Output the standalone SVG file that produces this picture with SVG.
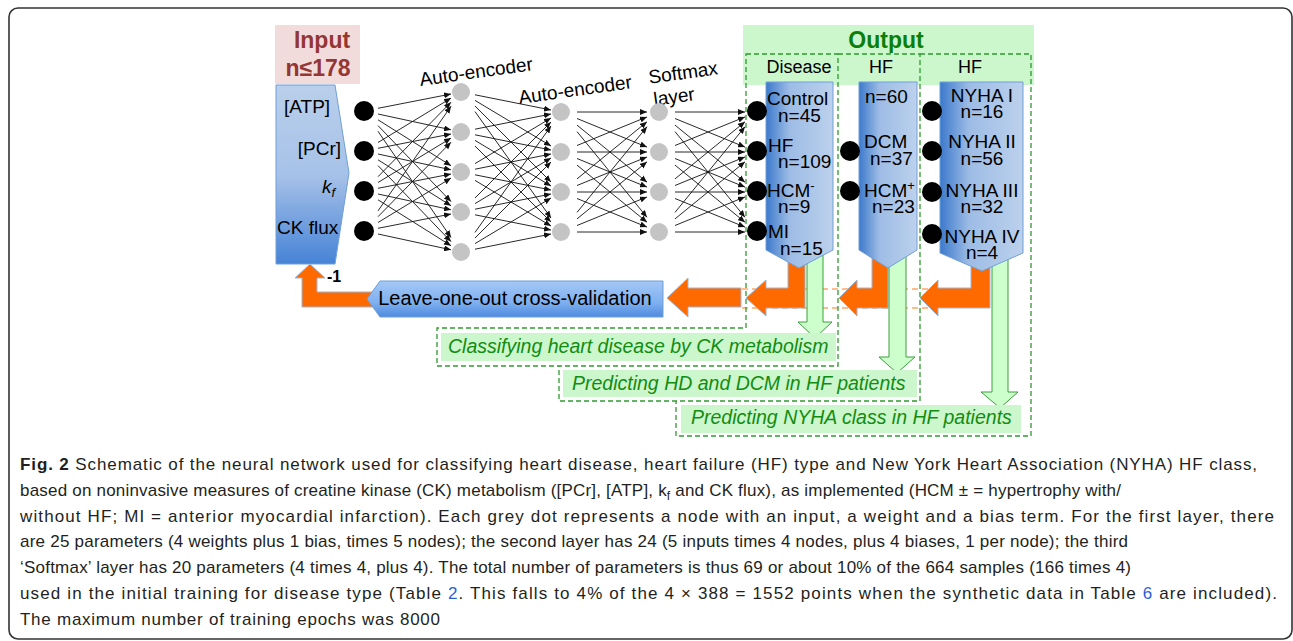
<svg xmlns="http://www.w3.org/2000/svg" width="1293" height="641" viewBox="0 0 1293 641">
<defs>
  <linearGradient id="gIn" x1="0" y1="0" x2="0" y2="1">
    <stop offset="0" stop-color="#b9cfeb"/>
    <stop offset="0.5" stop-color="#a7c2e8"/>
    <stop offset="1" stop-color="#4683d6"/>
  </linearGradient>
  <linearGradient id="gOut" x1="0" y1="0" x2="1" y2="0">
    <stop offset="0" stop-color="#3c79cc"/>
    <stop offset="0.35" stop-color="#9dbce5"/>
    <stop offset="1" stop-color="#bcd1ec"/>
  </linearGradient>
  <linearGradient id="gLoo" x1="0" y1="0" x2="0" y2="1">
    <stop offset="0" stop-color="#a3c8f7"/>
    <stop offset="0.6" stop-color="#7fb0ef"/>
    <stop offset="1" stop-color="#4f8be0"/>
  </linearGradient>
  <marker id="ah" markerUnits="userSpaceOnUse" markerWidth="7" markerHeight="6" refX="7" refY="3" orient="auto"><path d="M0,0 L7,3 L0,6 z" fill="#111"/></marker>
</defs>
<style>
  .t{font-family:"Liberation Sans",Arial,sans-serif;fill:#000}
  .cap{font-family:"Liberation Sans",Arial,sans-serif;font-size:17px;fill:#231f20}
  .lnk{fill:#2d5fd3}
  .w{stroke:#111;stroke-width:0.9;marker-end:url(#ah);fill:none}
  .gn{fill:#c4c4c4}
  .bn{fill:#000}
  .dash{fill:none;stroke:#2f9a2f;stroke-width:1.3;stroke-dasharray:5 3}
  .odash{fill:none;stroke:#ff7a1a;stroke-width:1.2;stroke-dasharray:6 4}
  .org{fill:#ff6a00;stroke:#9bb5da;stroke-width:1}
  .grn{fill:#ccffcc;stroke:#3aa03a;stroke-width:1}
  .gbox{fill:#ccf7cc}
  .gt{font-family:"Liberation Sans",Arial,sans-serif;font-style:italic;font-size:19.5px;fill:#128c12}
  .shape{fill:url(#gOut);stroke:#6f9fd8;stroke-width:1}
  .lbl{font-size:19px}
  .ot{font-size:19px}
  .it{font-size:19px}
</style>
<rect x="9" y="8" width="1283" height="631" rx="9" fill="#fff" stroke="#333" stroke-width="1.6"/>

<g id="input">
  <rect x="275" y="25" width="85" height="59" fill="#f2dcdb"/>
  <text class="t" x="322" y="48" text-anchor="middle" font-size="23" font-weight="bold" style="fill:#943634">Input</text>
  <text class="t" x="318" y="76" text-anchor="middle" font-size="23" font-weight="bold" style="fill:#943634">n≤178</text>
  <polygon points="276,85 335,85 349,173 335,264 276,264" fill="url(#gIn)" stroke="#6f9fd8" stroke-width="1"/>
  <text class="t it" x="284" y="113">[ATP]</text>
  <text class="t it" x="341" y="155" text-anchor="end">[PCr]</text>
  <text class="t it" x="322" y="193" font-style="italic">k<tspan dy="4" font-size="13">f</tspan></text>
  <text class="t it" x="277" y="234">CK flux</text>
</g>

<g id="connectors">
  <!-- layer 1 -->
  <line class="w" x1="378" y1="108.3" x2="451" y2="94"/>
  <line class="w" x1="378" y1="114" x2="451" y2="129.8"/>
  <line class="w" x1="378" y1="119.8" x2="451" y2="165.7"/>
  <line class="w" x1="378" y1="125.6" x2="451" y2="201.6"/>
  <line class="w" x1="378" y1="131.3" x2="451" y2="237.5"/>
  <line class="w" x1="378" y1="142.5" x2="451" y2="98.1"/>
  <line class="w" x1="378" y1="148.3" x2="451" y2="134"/>
  <line class="w" x1="378" y1="154" x2="451" y2="169.8"/>
  <line class="w" x1="378" y1="159.8" x2="451" y2="205.7"/>
  <line class="w" x1="378" y1="165.6" x2="451" y2="241.6"/>
  <line class="w" x1="378" y1="176.7" x2="451" y2="102.2"/>
  <line class="w" x1="378" y1="182.5" x2="451" y2="138.1"/>
  <line class="w" x1="378" y1="188.3" x2="451" y2="174"/>
  <line class="w" x1="378" y1="194" x2="451" y2="209.8"/>
  <line class="w" x1="378" y1="199.8" x2="451" y2="245.7"/>
  <line class="w" x1="378" y1="210.9" x2="451" y2="106.3"/>
  <line class="w" x1="378" y1="216.7" x2="451" y2="142.2"/>
  <line class="w" x1="378" y1="222.5" x2="451" y2="178.1"/>
  <line class="w" x1="378" y1="228.3" x2="451" y2="214"/>
  <line class="w" x1="378" y1="234" x2="451" y2="249.8"/>
  <!-- layer 2 -->
  <line class="w" x1="475" y1="94.8" x2="551" y2="110"/>
  <line class="w" x1="475" y1="100.4" x2="551" y2="146"/>
  <line class="w" x1="475" y1="106" x2="551" y2="182"/>
  <line class="w" x1="475" y1="111.6" x2="551" y2="218"/>
  <line class="w" x1="475" y1="129.2" x2="551" y2="114"/>
  <line class="w" x1="475" y1="134.8" x2="551" y2="150"/>
  <line class="w" x1="475" y1="140.4" x2="551" y2="186"/>
  <line class="w" x1="475" y1="146" x2="551" y2="222"/>
  <line class="w" x1="475" y1="163.6" x2="551" y2="118"/>
  <line class="w" x1="475" y1="169.2" x2="551" y2="154"/>
  <line class="w" x1="475" y1="174.8" x2="551" y2="190"/>
  <line class="w" x1="475" y1="180.4" x2="551" y2="226"/>
  <line class="w" x1="475" y1="198" x2="551" y2="122"/>
  <line class="w" x1="475" y1="203.6" x2="551" y2="158"/>
  <line class="w" x1="475" y1="209.2" x2="551" y2="194"/>
  <line class="w" x1="475" y1="214.8" x2="551" y2="230"/>
  <line class="w" x1="475" y1="232.4" x2="551" y2="126"/>
  <line class="w" x1="475" y1="238" x2="551" y2="162"/>
  <line class="w" x1="475" y1="243.6" x2="551" y2="198"/>
  <line class="w" x1="475" y1="249.2" x2="551" y2="234"/>
  <!-- layer 3 -->
  <line class="w" x1="577" y1="112" x2="647" y2="112"/>
  <line class="w" x1="577" y1="118.5" x2="647" y2="147.1"/>
  <line class="w" x1="577" y1="125.1" x2="647" y2="182.2"/>
  <line class="w" x1="577" y1="131.6" x2="647" y2="217.3"/>
  <line class="w" x1="577" y1="145.5" x2="647" y2="116.9"/>
  <line class="w" x1="577" y1="152" x2="647" y2="152"/>
  <line class="w" x1="577" y1="158.5" x2="647" y2="187.1"/>
  <line class="w" x1="577" y1="165.1" x2="647" y2="222.2"/>
  <line class="w" x1="577" y1="178.9" x2="647" y2="121.8"/>
  <line class="w" x1="577" y1="185.5" x2="647" y2="156.9"/>
  <line class="w" x1="577" y1="192" x2="647" y2="192"/>
  <line class="w" x1="577" y1="198.5" x2="647" y2="227.1"/>
  <line class="w" x1="577" y1="212.4" x2="647" y2="126.7"/>
  <line class="w" x1="577" y1="218.9" x2="647" y2="161.8"/>
  <line class="w" x1="577" y1="225.5" x2="647" y2="196.9"/>
  <line class="w" x1="577" y1="232" x2="647" y2="232"/>
  <!-- layer 4 -->
  <line class="w" x1="675" y1="112" x2="745" y2="112"/>
  <line class="w" x1="675" y1="118.5" x2="745" y2="147.1"/>
  <line class="w" x1="675" y1="125.1" x2="745" y2="182.2"/>
  <line class="w" x1="675" y1="131.6" x2="745" y2="217.3"/>
  <line class="w" x1="675" y1="145.5" x2="745" y2="116.9"/>
  <line class="w" x1="675" y1="152" x2="745" y2="152"/>
  <line class="w" x1="675" y1="158.5" x2="745" y2="187.1"/>
  <line class="w" x1="675" y1="165.1" x2="745" y2="222.2"/>
  <line class="w" x1="675" y1="178.9" x2="745" y2="121.8"/>
  <line class="w" x1="675" y1="185.5" x2="745" y2="156.9"/>
  <line class="w" x1="675" y1="192" x2="745" y2="192"/>
  <line class="w" x1="675" y1="198.5" x2="745" y2="227.1"/>
  <line class="w" x1="675" y1="212.4" x2="745" y2="126.7"/>
  <line class="w" x1="675" y1="218.9" x2="745" y2="161.8"/>
  <line class="w" x1="675" y1="225.5" x2="745" y2="196.9"/>
  <line class="w" x1="675" y1="232" x2="745" y2="232"/>
  <!-- feedback arrows -->
  <line class="odash" x1="742" y1="289" x2="940" y2="289"/>
  <line class="odash" x1="742" y1="308" x2="940" y2="308"/>
  <polygon class="org" points="377,292 317,292 317,278 325,278 310,264 295,278 302,278 302,307 377,307"/>
  <polygon class="org" points="667,298 688,278 688,288 741,288 741,307 688,307 688,317"/>
  <polygon class="org" points="788,255 805,255 805,308 766,308 766,316 746,298 766,280 766,288 788,288"/>
  <polygon class="org" points="872,255 888,255 888,308 857,308 857,316 839,298 857,280 857,288 872,288"/>
  <polygon class="org" points="971,258 990,258 990,308 938,308 938,316 920,298 938,280 938,288 971,288"/>
  <polygon class="grn" points="807,255 823,255 823,322 832,322 815,338 798,322 807,322"/>
  <polygon class="grn" points="889,255 906,255 906,357 915,357 897,373 879,357 889,357"/>
  <polygon class="grn" points="992,255 1008,255 1008,392 1018,392 1000,408 981,392 992,392"/>
  <text class="t" x="327" y="282" font-size="16" font-weight="bold">-1</text>
</g>

<g id="loocv">
  <polygon points="367,299 380,281 663,281 663,317 380,317" fill="url(#gLoo)" stroke="#6f9fd8" stroke-width="1"/>
  <text class="t" x="515" y="305" font-size="20" text-anchor="middle">Leave-one-out cross-validation</text>
</g>

<g id="input-nodes">
  <circle class="bn" cx="364" cy="111" r="10"/>
  <circle class="bn" cx="364" cy="151" r="10"/>
  <circle class="bn" cx="364" cy="191" r="10"/>
  <circle class="bn" cx="364" cy="231" r="10"/>
</g>
<g id="autoencoder1">
  <text class="t lbl" x="477" y="78" text-anchor="middle" transform="rotate(-8 477 78)">Auto-encoder</text>
  <circle class="gn" cx="461" cy="92" r="9"/>
  <circle class="gn" cx="461" cy="132" r="9"/>
  <circle class="gn" cx="461" cy="172" r="9"/>
  <circle class="gn" cx="461" cy="212" r="9"/>
  <circle class="gn" cx="461" cy="252" r="9"/>
</g>
<g id="autoencoder2">
  <text class="t lbl" x="576" y="96" text-anchor="middle" transform="rotate(-8 576 96)">Auto-encoder</text>
  <circle class="gn" cx="561" cy="112" r="9"/>
  <circle class="gn" cx="561" cy="152" r="9"/>
  <circle class="gn" cx="561" cy="192" r="9"/>
  <circle class="gn" cx="561" cy="232" r="9"/>
</g>
<g id="softmax">
  <text class="t lbl" x="684" y="79" text-anchor="middle" transform="rotate(-8 684 79)">Softmax</text>
  <text class="t lbl" x="675" y="103" text-anchor="middle" transform="rotate(-8 675 103)">layer</text>
  <circle class="gn" cx="659" cy="112" r="9"/>
  <circle class="gn" cx="659" cy="152" r="9"/>
  <circle class="gn" cx="659" cy="192" r="9"/>
  <circle class="gn" cx="659" cy="232" r="9"/>
</g>

<g id="output">
  <rect x="743" y="25" width="291" height="60" fill="#ccf7cc"/>
  <text class="t" x="886" y="48" text-anchor="middle" font-size="23" font-weight="bold" style="fill:#0b7f0b">Output</text>
  <rect class="gbox" x="441" y="333" width="395" height="28"/>
  <rect class="gbox" x="563" y="370" width="354" height="27"/>
  <rect class="gbox" x="681" y="405" width="340" height="28"/>
  <path class="dash" d="M746,54 H838 V366 H437 V328 H746 Z"/>
  <path class="dash" d="M838,54 H920 V401 H559 V366"/>
  <path class="dash" d="M920,54 H1031 V436 H676 V401"/>
  <text class="gt" x="448" y="353">Classifying heart disease by CK metabolism</text>
  <text class="gt" x="572" y="390">Predicting HD and DCM in HF patients</text>
  <text class="gt" x="691" y="424">Predicting NYHA class in HF patients</text>
</g>

<g id="disease">
  <text class="t" x="799" y="73" text-anchor="middle" font-size="18">Disease</text>
  <polygon class="shape" points="766,82 833,82 833,250 799,268 766,250"/>
  <text class="t ot" x="767" y="105">Control</text>
  <text class="t ot" x="778" y="122">n=45</text>
  <text class="t ot" x="768" y="152">HF</text>
  <text class="t ot" x="778" y="168">n=109</text>
  <text class="t ot" x="767" y="197">HCM<tspan dy="-7" font-size="13">-</tspan></text>
  <text class="t ot" x="778" y="213">n=9</text>
  <text class="t ot" x="768" y="238">MI</text>
  <text class="t ot" x="780" y="255">n=15</text>
  <circle class="bn" cx="757" cy="111" r="10"/>
  <circle class="bn" cx="757" cy="151" r="10"/>
  <circle class="bn" cx="757" cy="191" r="10"/>
  <circle class="bn" cx="757" cy="231" r="10"/>
</g>

<g id="hf-type">
  <text class="t" x="881" y="73" text-anchor="middle" font-size="18">HF</text>
  <polygon class="shape" points="859,82 917,82 917,250 888,268 859,250"/>
  <text class="t ot" x="865" y="103">n=60</text>
  <text class="t ot" x="864" y="148">DCM</text>
  <text class="t ot" x="870" y="165">n=37</text>
  <text class="t ot" x="864" y="197">HCM<tspan dy="-7" font-size="13">+</tspan></text>
  <text class="t ot" x="872" y="213">n=23</text>
  <circle class="bn" cx="850" cy="151" r="10"/>
  <circle class="bn" cx="850" cy="191" r="10"/>
</g>

<g id="nyha">
  <text class="t" x="970" y="73" text-anchor="middle" font-size="18">HF</text>
  <polygon class="shape" points="940,82 1023,82 1023,253 982,271 940,253"/>
  <text class="t ot" x="982" y="102" text-anchor="middle">NYHA I</text>
  <text class="t ot" x="982" y="118" text-anchor="middle">n=16</text>
  <text class="t ot" x="982" y="148" text-anchor="middle">NYHA II</text>
  <text class="t ot" x="982" y="165" text-anchor="middle">n=56</text>
  <text class="t ot" x="982" y="197" text-anchor="middle">NYHA III</text>
  <text class="t ot" x="982" y="213" text-anchor="middle">n=32</text>
  <text class="t ot" x="982" y="243" text-anchor="middle">NYHA IV</text>
  <text class="t ot" x="982" y="259" text-anchor="middle">n=4</text>
  <circle class="bn" cx="932" cy="111" r="10"/>
  <circle class="bn" cx="932" cy="151" r="10"/>
  <circle class="bn" cx="932" cy="192" r="10"/>
  <circle class="bn" cx="932" cy="234" r="10"/>
</g>

<g id="caption">
  <text class="cap" x="20" y="470" textLength="1237" lengthAdjust="spacing"><tspan font-weight="bold">Fig. 2</tspan> Schematic of the neural network used for classifying heart disease, heart failure (HF) type and New York Heart Association (NYHA) HF class,</text>
  <text class="cap" x="20" y="496" textLength="1101" lengthAdjust="spacing">based on noninvasive measures of creatine kinase (CK) metabolism ([PCr], [ATP], k<tspan dy="4" font-size="12">f</tspan><tspan dy="-4"> and CK flux), as implemented (HCM ± = hypertrophy with/</tspan></text>
  <text class="cap" x="20" y="522" textLength="1254" lengthAdjust="spacing">without HF; MI = anterior myocardial infarction). Each grey dot represents a node with an input, a weight and a bias term. For the first layer, there</text>
  <text class="cap" x="20" y="547" textLength="1108" lengthAdjust="spacing">are 25 parameters (4 weights plus 1 bias, times 5 nodes); the second layer has 24 (5 inputs times 4 nodes, plus 4 biases, 1 per node); the third</text>
  <text class="cap" x="20" y="573" textLength="1111" lengthAdjust="spacing">‘Softmax’ layer has 20 parameters (4 times 4, plus 4). The total number of parameters is thus 69 or about 10% of the 664 samples (166 times 4)</text>
  <text class="cap" x="20" y="599" textLength="1257" lengthAdjust="spacing">used in the initial training for disease type (Table <tspan class="lnk">2</tspan>. This falls to 4% of the 4 × 388 = 1552 points when the synthetic data in Table <tspan class="lnk">6</tspan> are included).</text>
  <text class="cap" x="20" y="625" textLength="420" lengthAdjust="spacing">The maximum number of training epochs was 8000</text>
</g>
</svg>
